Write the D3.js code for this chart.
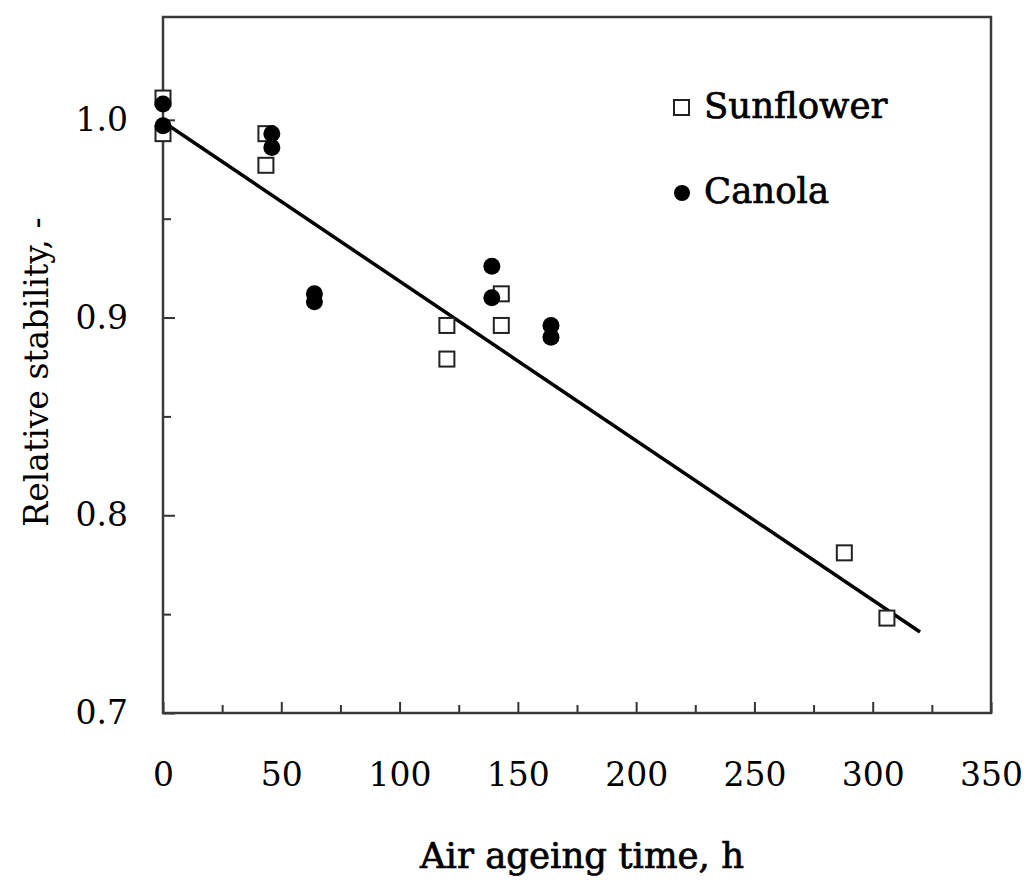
<!DOCTYPE html>
<html>

<head>
  <meta charset="utf8">
  <script src="https://d3js.org/d3.v7.min.js"></script>
  <style>
    body {
      margin: 0;
      background: #fff;
    }

    text {
      font-family: "DejaVu Serif", serif;
      fill: #000;
    }

    .heavy {
      stroke: #000;
      stroke-width: 0.7px;
    }

    .axis path {
      display: none;
    }

    .axis line {
      stroke: #333;
      stroke-width: 2;
    }

    .axis text {
      font-size: 33px;
    }
  </style>
</head>

<body>
  <svg id="chart" width="1029" height="888"></svg>

  <script>
    // sunflower (open squares)
    var sunflowerX = [0, 0, 43.5, 43.5, 120, 120, 143, 143, 288, 306];
    var sunflowerY = [1.011, 0.993, 0.993, 0.977, 0.896, 0.879, 0.912, 0.896, 0.781, 0.748];
    // canola (filled dots)
    var canolaX = [0, 0, 46, 46, 64, 64, 139, 139, 164, 164];
    var canolaY = [1.008, 0.997, 0.993, 0.986, 0.912, 0.908, 0.926, 0.910, 0.896, 0.890];
    // linear fit
    var fitX = [0, 320];
    var fitY = [0.999, 0.741];

    var xMajor = [0, 50, 100, 150, 200, 250, 300, 350];
    var xMinor = [25, 75, 125, 175, 225, 275, 325];
    var yMajor = [0.7, 0.8, 0.9, 1.0];
    var yMinor = [0.75, 0.85, 0.95];

    var chart = d3.select('#chart');
    var margin = { top: 17, left: 163 };
    var width = 828;
    var height = 696;

    var x = d3.scaleLinear().domain([0, 350]).range([0, width]);
    var y = d3.scaleLinear().domain([0.7, 1.052]).range([height, 0]);

    var group = chart.append('g')
      .attr('transform', 'translate(' + margin.left + ', ' + margin.top + ')');

    // minor ticks
    group.append('g')
      .attr('class', 'axis')
      .attr('transform', 'translate(0, ' + height + ')')
      .call(d3.axisBottom(x).tickValues(xMinor).tickSize(-8).tickFormat(''));

    group.append('g')
      .attr('class', 'axis')
      .call(d3.axisLeft(y).tickValues(yMinor).tickSize(-8).tickFormat(''));

    // major ticks + labels
    group.append('g')
      .attr('class', 'axis')
      .attr('transform', 'translate(0, ' + height + ')')
      .call(d3.axisBottom(x).tickValues(xMajor).tickSize(-11).tickPadding(50).tickFormat(d3.format('d')));

    group.append('g')
      .attr('class', 'axis')
      .call(d3.axisLeft(y).tickValues(yMajor).tickSize(-12).tickPadding(35).tickFormat(d3.format('.1f')));

    // frame
    group.append('rect')
      .attr('width', width)
      .attr('height', height)
      .attr('fill', 'none')
      .attr('stroke', '#3a3a3a')
      .attr('stroke-width', 2.5);

    // fit line
    var line = d3.line()
      .x((d) => x(d[0]))
      .y((d) => y(d[1]));

    group.append('path')
      .datum(d3.zip(fitX, fitY))
      .attr('d', line)
      .attr('fill', 'none')
      .attr('stroke', '#000')
      .attr('stroke-width', 3.5);

    var sq = 15;
    group.selectAll('.sunflower')
      .data(d3.zip(sunflowerX, sunflowerY))
      .enter()
      .append('rect')
      .attr('class', 'sunflower')
      .attr('x', (d) => x(d[0]) - sq / 2)
      .attr('y', (d) => y(d[1]) - sq / 2)
      .attr('width', sq)
      .attr('height', sq)
      .attr('fill', '#fff')
      .attr('stroke', '#222')
      .attr('stroke-width', 2);

    group.selectAll('.canola')
      .data(d3.zip(canolaX, canolaY))
      .enter()
      .append('circle')
      .attr('class', 'canola')
      .attr('cx', (d) => x(d[0]))
      .attr('cy', (d) => y(d[1]))
      .attr('r', 8.5)
      .attr('fill', '#000');

    // legend
    var legend = chart.append('g');
    legend.append('rect')
      .attr('x', 674)
      .attr('y', 100)
      .attr('width', sq)
      .attr('height', sq)
      .attr('fill', '#fff')
      .attr('stroke', '#222')
      .attr('stroke-width', 2);
    legend.append('text')
      .attr('class', 'heavy')
      .attr('x', 704)
      .attr('y', 118)
      .attr('font-size', 35.5)
      .text('Sunflower');
    legend.append('circle')
      .attr('cx', 682)
      .attr('cy', 193)
      .attr('r', 8)
      .attr('fill', '#000');
    legend.append('text')
      .attr('class', 'heavy')
      .attr('x', 704)
      .attr('y', 203)
      .attr('font-size', 35.5)
      .text('Canola');

    // axis titles
    chart.append('text')
      .attr('class', 'heavy')
      .attr('x', margin.left + width / 2 + 5)
      .attr('y', 868)
      .attr('text-anchor', 'middle')
      .attr('font-size', 35.5)
      .text('Air ageing time, h');

    chart.append('text')
      .attr('transform', 'translate(48, 372) rotate(-90)')
      .attr('text-anchor', 'middle')
      .attr('font-size', 33)
      .text('Relative stability, -');
  </script>
</body>

</html>
